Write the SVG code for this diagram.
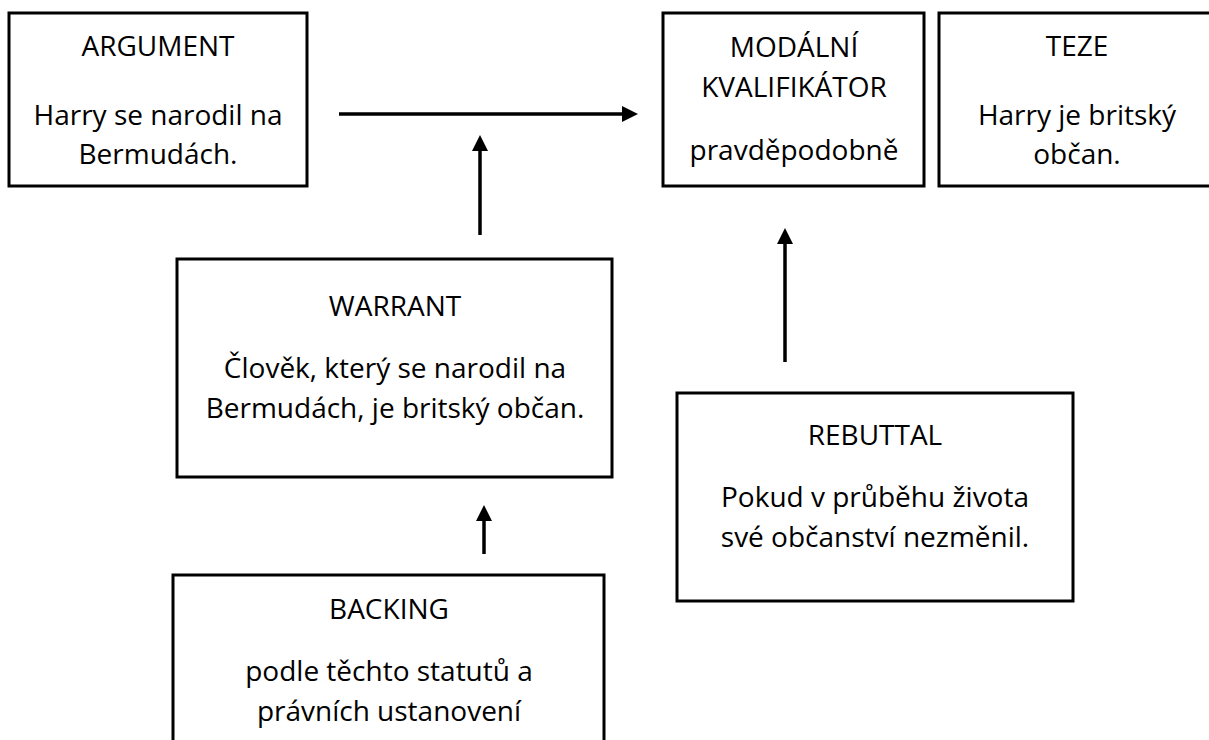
<svg xmlns="http://www.w3.org/2000/svg" width="1209" height="740" viewBox="0 0 1209 740">
  <style>
    .box { fill: #ffffff; stroke: #000000; stroke-width: 3; }
    .t { font-family: "Open Sans", "Liberation Sans", sans-serif; font-size: 28px; fill: #000000; text-anchor: middle; }
    .conn { stroke: #000000; stroke-width: 3.5; fill: none; marker-end: url(#arrow); }
  </style>
  <defs>
    <marker id="arrow" viewBox="0 0 16 16" refX="2" refY="8" markerWidth="16" markerHeight="16" markerUnits="userSpaceOnUse" orient="auto">
      <path d="M0,0 L16,8 L0,16 Z" fill="#000000"/>
    </marker>
  </defs>
  <rect x="0" y="0" width="1209" height="740" fill="#ffffff"/>

  <g id="argument">
    <rect class="box" x="9" y="13" width="298" height="173"/>
    <text class="t" x="158" y="56">ARGUMENT</text>
    <text class="t" x="158" y="125">Harry se narodil na</text>
    <text class="t" x="158" y="164">Bermudách.</text>
  </g>

  <g id="qualifier">
    <rect class="box" x="663" y="13" width="261" height="173"/>
    <text class="t" x="794" y="57">MODÁLNÍ</text>
    <text class="t" x="794" y="97">KVALIFIKÁTOR</text>
    <text class="t" x="794" y="160">pravděpodobně</text>
  </g>

  <g id="claim">
    <rect class="box" x="939" y="13" width="276" height="173"/>
    <text class="t" x="1077" y="56">TEZE</text>
    <text class="t" x="1077" y="125">Harry je britský</text>
    <text class="t" x="1077" y="164">občan.</text>
  </g>

  <g id="warrant">
    <rect class="box" x="177" y="259" width="435" height="218"/>
    <text class="t" x="395" y="316">WARRANT</text>
    <text class="t" x="395" y="378">Člověk, který se narodil na</text>
    <text class="t" x="395" y="418">Bermudách, je britský občan.</text>
  </g>

  <g id="rebuttal">
    <rect class="box" x="677" y="393" width="396" height="208"/>
    <text class="t" x="875" y="445">REBUTTAL</text>
    <text class="t" x="875" y="507">Pokud v průběhu života</text>
    <text class="t" x="875" y="547">své občanství nezměnil.</text>
  </g>

  <g id="backing">
    <rect class="box" x="173" y="575" width="431" height="200"/>
    <text class="t" x="389" y="619">BACKING</text>
    <text class="t" x="389" y="681">podle těchto statutů a</text>
    <text class="t" x="389" y="721">právních ustanovení</text>
  </g>

  <g id="connectors">
    <line class="conn" x1="339" y1="114" x2="624" y2="114"/>
    <line class="conn" x1="480" y1="235" x2="480" y2="149"/>
    <line class="conn" x1="785" y1="362" x2="785" y2="242"/>
    <line class="conn" x1="484" y1="554" x2="484" y2="519"/>
  </g>
</svg>
